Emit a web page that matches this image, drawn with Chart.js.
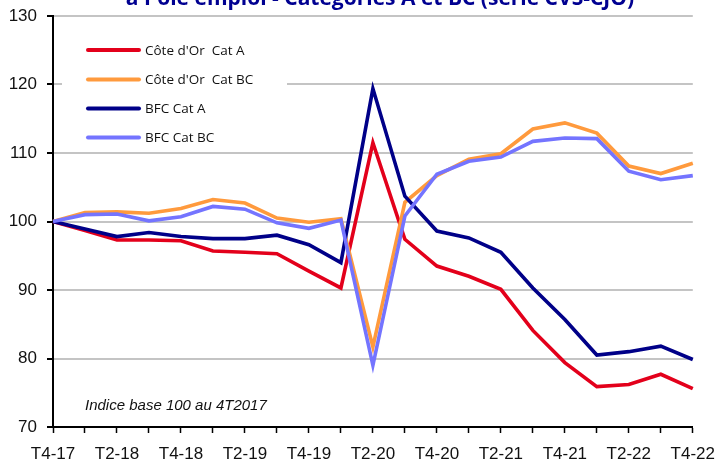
<!DOCTYPE html>
<html>
<head>
<meta charset="utf-8">
<script src="https://cdn.jsdelivr.net/npm/chart.js@4.4.0/dist/chart.umd.min.js"></script>
<style>
html,body{margin:0;padding:0;background:#fff;overflow:hidden;}
#wrap{position:relative;width:726px;height:460px;}
</style>
</head>
<body>
<div id="wrap"><canvas id="c" width="726" height="460"></canvas></div>
<script>
const titleText = "à Pôle emploi - Catégories A et BC (série CVS-CJO)";
const noteText = "Indice base 100 au 4T2017";
const categories = ["T4-17","T1-18","T2-18","T3-18","T4-18","T1-19","T2-19","T3-19","T4-19","T1-20","T2-20","T3-20","T4-20","T1-21","T2-21","T3-21","T4-21","T1-22","T2-22","T3-22","T4-22"];
const seriesNames = ["Côte d'Or  Cat A","Côte d'Or  Cat BC","BFC Cat A","BFC Cat BC"];
const coteDorCatA  = [100,98.7,97.3,97.3,97.2,95.7,95.5,95.3,92.75,90.3,111.5,97.4,93.5,92.0,90.1,84.1,79.4,75.9,76.2,77.7,75.6];
const coteDorCatBC = [100,101.3,101.4,101.2,101.9,103.2,102.7,100.5,99.9,100.4,81.7,102.8,106.7,109.1,109.9,113.5,114.4,112.9,108.1,107.0,108.5];
const bfcCatA      = [100,98.9,97.8,98.4,97.8,97.5,97.5,98.0,96.6,94.0,119.4,103.7,98.6,97.6,95.5,90.3,85.7,80.5,81.0,81.8,79.85];
const bfcCatBC     = [100,101.0,101.1,100.1,100.7,102.2,101.8,99.8,99.0,100.2,79.0,100.8,106.9,108.8,109.4,111.7,112.2,112.1,107.35,106.1,106.7];
const yTicks = [70,80,90,100,110,120,130];

const colors = ["#E3001B","#FF9A3D","#000088","#7474FF"];
const axisFont = {family:"'Liberation Sans Narrow','Arial Narrow','Liberation Sans',Arial,sans-serif", size:17};

const overlay = {
  id:'overlay',
  afterDatasetsDraw(chart){
    const ctx = chart.ctx;
    ctx.save();
    // legend box
    ctx.fillStyle = '#fff';
    ctx.fillRect(62, 26, 225, 126);
    const rows = [50, 79.5, 108.5, 137.5];
    chart.data.datasets.forEach((ds, i) => {
      ctx.strokeStyle = ds.borderColor;
      ctx.lineWidth = 4;
      ctx.lineCap = 'round';
      ctx.beginPath();
      ctx.moveTo(88, rows[i]);
      ctx.lineTo(139, rows[i]);
      ctx.stroke();
      ctx.fillStyle = '#111';
      ctx.font = "13.5px 'Open Sans', sans-serif";
      ctx.textBaseline = 'middle';
      ctx.textAlign = 'left';
      ctx.fillText(ds.label, 145, rows[i] + 1);
    });
    // note
    ctx.fillStyle = '#111';
    ctx.font = "italic 15px 'Liberation Sans', Arial, sans-serif";
    ctx.textBaseline = 'middle';
    ctx.fillText(noteText, 85, 406);
    // clipped title
    ctx.fillStyle = '#000091';
    ctx.font = "bold 21px 'Open Sans', sans-serif";
    ctx.textAlign = 'center';
    ctx.textBaseline = 'alphabetic';
    ctx.fillText(titleText, 380, 5);
    ctx.restore();
  }
};

const values = [coteDorCatA, coteDorCatBC, bfcCatA, bfcCatBC];
new Chart(document.getElementById('c'), {
  type: 'line',
  data: {
    labels: categories,
    datasets: values.map((v, i) => ({
      label: seriesNames[i],
      data: v,
      borderColor: colors[i],
      backgroundColor: colors[i],
      borderWidth: 3.6,
      pointRadius: 0,
      tension: 0,
      fill: false,
      order: 4 - i
    }))
  },
  options: {
    responsive: false,
    animation: false,
    devicePixelRatio: 1,
    layout: {padding: {top: 16, right: 22, left: 0, bottom: 0}},
    plugins: {legend: {display: false}, title: {display: false}, tooltip: {enabled: false}},
    scales: {
      x: {
        type: 'category',
        offset: false,
        afterFit(s){ s.height = 33; },
        grid: {drawOnChartArea: false, drawTicks: true, tickLength: 6, tickColor: '#000', tickWidth: 1.5},
        border: {color: '#000', width: 2},
        ticks: {
          autoSkip: false, maxRotation: 0, minRotation: 0, padding: 11,
          color: '#111', font: axisFont,
          callback: (v, i) => i % 2 === 0 ? categories[i] : ''
        }
      },
      y: {
        min: 70, max: 130,
        afterFit(s){ s.width = 53; s.paddingTop = 0; s.paddingBottom = 0; },
        afterBuildTicks(s){ s.ticks = yTicks.map(v => ({value: v})); },
        grid: {color: '#c4c4c4', lineWidth: 2, tickColor: '#000', tickLength: 6, tickWidth: 2},
        border: {color: '#000', width: 2},
        ticks: {color: '#111', font: axisFont, padding: 10}
      }
    }
  },
  plugins: [overlay]
});
</script>
</body>
</html>
